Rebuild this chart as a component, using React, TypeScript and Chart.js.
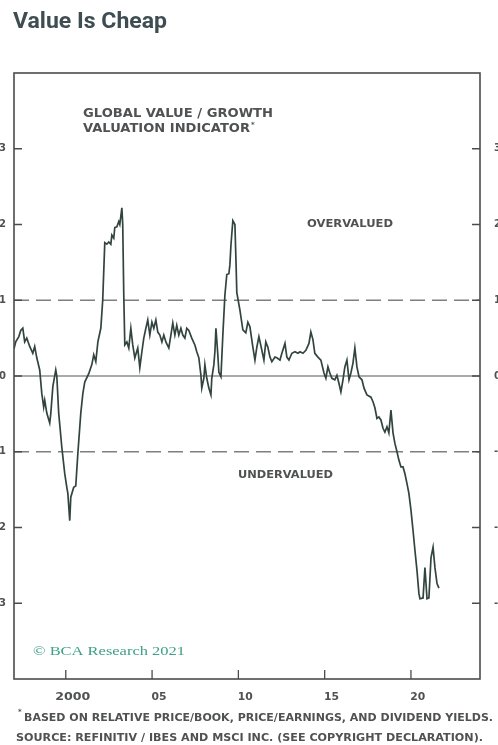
import React, { useEffect, useRef } from "react";
import { Chart, registerables } from "chart.js";

Chart.register(...registerables);

// Global value / growth valuation indicator (decimal years, standard deviations)
const years = [
  1997.0, 1997.1, 1997.28, 1997.39, 1997.51, 1997.62, 1997.74, 1997.91, 1998.09, 1998.2,
  1998.32, 1998.49, 1998.61, 1998.72, 1998.78, 1998.9, 1999.07, 1999.13, 1999.25, 1999.42,
  1999.48, 1999.59, 1999.77, 1999.94, 2000.06, 2000.12, 2000.23, 2000.29, 2000.46, 2000.58,
  2000.7, 2000.87, 2000.99, 2001.1, 2001.33, 2001.51, 2001.62, 2001.74, 2001.86, 2002.03,
  2002.14, 2002.26, 2002.38, 2002.49, 2002.61, 2002.67, 2002.78, 2002.84, 2002.96, 2003.07,
  2003.13, 2003.25, 2003.3, 2003.36, 2003.42, 2003.54, 2003.65, 2003.77, 2003.88, 2004.0,
  2004.17, 2004.29, 2004.41, 2004.52, 2004.64, 2004.75, 2004.87, 2004.99, 2005.1, 2005.22,
  2005.33, 2005.45, 2005.57, 2005.68, 2005.8, 2005.97, 2006.09, 2006.2, 2006.32, 2006.43,
  2006.55, 2006.67, 2006.78, 2006.9, 2007.01, 2007.13, 2007.3, 2007.48, 2007.59, 2007.71,
  2007.83, 2007.88, 2008.0, 2008.06, 2008.17, 2008.29, 2008.41, 2008.46, 2008.58, 2008.64,
  2008.7, 2008.81, 2008.87, 2008.99, 2009.1, 2009.22, 2009.33, 2009.45, 2009.51, 2009.57,
  2009.68, 2009.8, 2009.86, 2009.91, 2010.09, 2010.26, 2010.43, 2010.55, 2010.67, 2010.84,
  2010.96, 2011.07, 2011.19, 2011.36, 2011.48, 2011.59, 2011.71, 2011.83, 2011.94, 2012.12,
  2012.23, 2012.41, 2012.52, 2012.7, 2012.81, 2012.93, 2013.1, 2013.28, 2013.45, 2013.57,
  2013.74, 2013.91, 2014.09, 2014.2, 2014.32, 2014.43, 2014.61, 2014.78, 2014.96, 2015.07,
  2015.19, 2015.3, 2015.42, 2015.59, 2015.71, 2015.83, 2015.94, 2016.06, 2016.17, 2016.29,
  2016.41, 2016.52, 2016.64, 2016.75, 2016.87, 2016.99, 2017.16, 2017.28, 2017.45, 2017.68,
  2017.8, 2017.91, 2018.03, 2018.14, 2018.26, 2018.38, 2018.49, 2018.61, 2018.72, 2018.84,
  2018.96, 2019.07, 2019.19, 2019.3, 2019.42, 2019.54, 2019.65, 2019.77, 2019.88, 2020.0,
  2020.12, 2020.23, 2020.35, 2020.46, 2020.52, 2020.7, 2020.81, 2020.93, 2021.04, 2021.16,
  2021.28, 2021.39, 2021.51, 2021.62,
];

const valuation = [
  0.36, 0.45, 0.52, 0.6, 0.63, 0.45, 0.5, 0.39, 0.3, 0.39,
  0.24, 0.08, -0.23, -0.41, -0.32, -0.49, -0.62, -0.5, -0.14, 0.08,
  0.0, -0.49, -0.94, -1.29, -1.47, -1.55, -1.91, -1.6, -1.47, -1.45,
  -1.02, -0.49, -0.23, -0.08, 0.03, 0.15, 0.28, 0.19, 0.45, 0.63,
  1.0, 1.76, 1.74, 1.77, 1.74, 1.86, 1.82, 1.96, 1.97, 2.04,
  2.0, 2.22, 2.0, 1.07, 0.41, 0.45, 0.37, 0.63, 0.41, 0.24,
  0.37, 0.11, 0.32, 0.5, 0.63, 0.74, 0.54, 0.71, 0.63, 0.74,
  0.58, 0.54, 0.45, 0.54, 0.45, 0.37, 0.54, 0.7, 0.54, 0.67,
  0.54, 0.63, 0.54, 0.5, 0.63, 0.6, 0.5, 0.41, 0.32, 0.24,
  0.01, -0.16, -0.03, 0.15, -0.03, -0.16, -0.25, -0.03, 0.15, 0.32,
  0.63, 0.28, 0.05, -0.01, 0.54, 1.07, 1.34, 1.35, 1.47, 1.73,
  2.05, 2.0, 1.53, 1.1, 0.87, 0.61, 0.57, 0.71, 0.65, 0.38,
  0.21, 0.38, 0.52, 0.34, 0.21, 0.45, 0.38, 0.25, 0.19, 0.25,
  0.24, 0.21, 0.3, 0.43, 0.25, 0.21, 0.3, 0.32, 0.3, 0.32,
  0.3, 0.34, 0.43, 0.58, 0.48, 0.3, 0.25, 0.21, 0.04, -0.03,
  0.12, 0.04, -0.03, -0.05, 0.01, -0.1, -0.21, -0.05, 0.12, 0.21,
  -0.05, 0.04, 0.17, 0.37, 0.12, -0.01, -0.05, -0.16, -0.25, -0.28,
  -0.34, -0.42, -0.56, -0.54, -0.58, -0.69, -0.74, -0.67, -0.75, -0.45,
  -0.75, -0.89, -1.0, -1.11, -1.2, -1.2, -1.29, -1.42, -1.55, -1.77,
  -2.04, -2.3, -2.57, -2.87, -2.94, -2.93, -2.53, -2.94, -2.93, -2.4,
  -2.26, -2.53, -2.74, -2.8,
];

const yTicks = [-3, -2, -1, 0, 1, 2, 3];
const yTickLabels = ["-3", "-2", "-1", "0", "1", "2", "3"];
const xTicks = [2000, 2005, 2010, 2015, 2020];
const xTickLabels = ["2000", "05", "10", "15", "20"];
const thresholds = [1, -1];
const xRange = [1997, 2024];
const yRange = [-4, 4];

const TEXT_GREY = "#4f5152";

// Draws text stretched or squeezed horizontally to a given width.
function fitText(ctx: CanvasRenderingContext2D, text: string, left: number, y: number, width: number) {
  const w = ctx.measureText(text).width || 1;
  ctx.save();
  ctx.translate(left, y);
  ctx.scale(width / w, 1);
  ctx.textAlign = "left";
  ctx.fillText(text, 0, 0);
  ctx.restore();
}

const decorations = {
  id: "decorations",
  afterDraw(chart: any) {
    const ctx: CanvasRenderingContext2D = chart.ctx;
    const { left, right, top, bottom } = chart.chartArea;
    const xs = chart.scales.x;
    const ys = chart.scales.y;

    ctx.save();
    // frame
    ctx.strokeStyle = "#4a4c4c";
    ctx.lineWidth = 1.6;
    ctx.strokeRect(left, top, right - left, bottom - top);

    // inward y ticks on both sides, labels outside
    ctx.lineWidth = 1.3;
    ctx.fillStyle = TEXT_GREY;
    ctx.font = "bold 10px 'DejaVu Sans'";
    ctx.textBaseline = "middle";
    yTicks.forEach((v, i) => {
      const y = ys.getPixelForValue(v);
      ctx.beginPath();
      ctx.moveTo(left, y);
      ctx.lineTo(left + 8, y);
      ctx.moveTo(right, y);
      ctx.lineTo(right - 8, y);
      ctx.stroke();
      ctx.textAlign = "right";
      ctx.fillText(yTickLabels[i], 6, y);
      ctx.textAlign = "left";
      ctx.fillText(yTickLabels[i], 494, y);
    });

    // inward x ticks, labels below
    ctx.textBaseline = "alphabetic";
    ctx.font = "bold 10px 'DejaVu Sans'";
    xTicks.forEach((v, i) => {
      const x = xs.getPixelForValue(v);
      ctx.beginPath();
      ctx.moveTo(x, bottom);
      ctx.lineTo(x, bottom - 9);
      ctx.stroke();
      const label = xTickLabels[i];
      const w = label.length === 4 ? 35 : 15;
      const cx = xs.getPixelForValue(v + 0.4);
      fitText(ctx, label, cx - w / 2, 700, w);
    });

    // title
    ctx.fillStyle = "#3e4d52";
    ctx.font = "bold 22px Roboto";
    ctx.textBaseline = "alphabetic";
    fitText(ctx, "Value Is Cheap", 13, 28, 154);

    // in-panel annotations
    ctx.fillStyle = TEXT_GREY;
    ctx.font = "bold 12px 'DejaVu Sans'";
    fitText(ctx, "GLOBAL VALUE / GROWTH", 83, 117, 190);
    fitText(ctx, "VALUATION INDICATOR", 83, 132, 167);
    ctx.font = "bold 7px 'DejaVu Sans'";
    ctx.fillText("*", 251, 127);

    ctx.font = "bold 10px 'DejaVu Sans'";
    fitText(ctx, "OVERVALUED", 307, 227, 86);
    fitText(ctx, "UNDERVALUED", 238, 478, 95);

    // copyright
    ctx.fillStyle = "#3c9f86";
    ctx.font = "13px 'Liberation Serif'";
    fitText(ctx, "\u00A9 BCA Research 2021", 33, 655, 152);

    // footnotes
    ctx.fillStyle = TEXT_GREY;
    ctx.font = "bold 7px 'DejaVu Sans'";
    ctx.fillText("*", 18, 714);
    ctx.font = "bold 10px 'DejaVu Sans'";
    fitText(ctx, "BASED ON RELATIVE PRICE/BOOK, PRICE/EARNINGS, AND DIVIDEND YIELDS.", 24, 721, 469);
    fitText(ctx, "SOURCE: REFINITIV / IBES AND MSCI INC. (SEE COPYRIGHT DECLARATION).", 16, 741, 467);
    ctx.restore();
  },
};

export default function App() {
  const ref = useRef<HTMLCanvasElement | null>(null);

  useEffect(() => {
    const canvas = ref.current;
    if (!canvas) return;
    const series = years.map((x, i) => ({ x, y: valuation[i] }));
    const flat = (v: number) => [
      { x: xRange[0], y: v },
      { x: xRange[1], y: v },
    ];
    const chart = new Chart(canvas, {
      type: "line",
      data: {
        datasets: [
          {
            data: flat(0),
            borderColor: "#8c8e8e",
            borderWidth: 1.3,
            pointRadius: 0,
            order: 3,
          },
          ...thresholds.map((t) => ({
            data: flat(t),
            borderColor: "#7d8080",
            borderWidth: 1.3,
            borderDash: [15, 7],
            pointRadius: 0,
            order: 2,
          })),
          {
            data: series,
            borderColor: "#32443f",
            borderWidth: 1.7,
            pointRadius: 0,
            tension: 0,
            order: 1,
          },
        ],
      },
      options: {
        responsive: false,
        animation: false,
        events: [],
        layout: { padding: { left: 14, right: 18, top: 73, bottom: 66 } },
        plugins: { legend: { display: false }, tooltip: { enabled: false } },
        scales: {
          x: { type: "linear", min: xRange[0], max: xRange[1], display: false },
          y: { type: "linear", min: yRange[0], max: yRange[1], display: false },
        },
      },
      plugins: [decorations],
    });
    return () => chart.destroy();
  }, []);

  return (
    <div style={{ position: "absolute", left: 0, top: 0, width: 498, height: 745, background: "#ffffff" }}>
      <canvas ref={ref} width={498} height={745} style={{ display: "block", width: 498, height: 745 }} />
    </div>
  );
}
